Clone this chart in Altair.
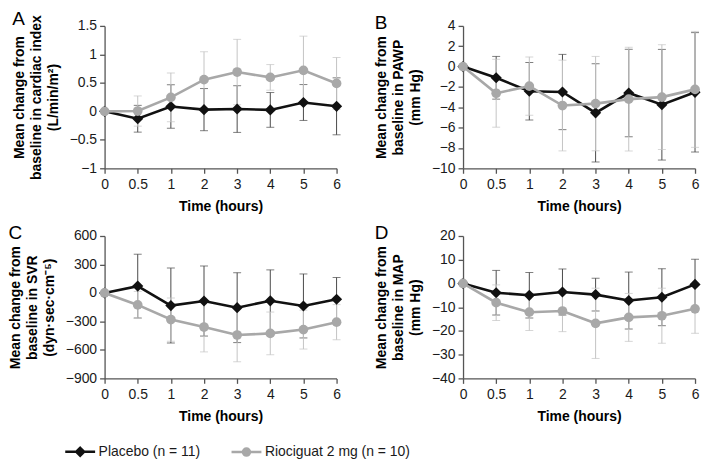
import altair as alt
import pandas as pd

FONT = "Liberation Sans"

TIME_LABELS = ["0", "0.5", "1", "2", "3", "4", "5", "6"]
SERIES = ["Placebo (n = 11)", "Riociguat 2 mg (n = 10)"]

# Panel A: cardiac index (L/min/m2)
A_PLA_MEAN = [0, -0.13, 0.085, 0.03, 0.04, 0.025, 0.155, 0.088]
A_PLA_SD = [0, 0.235, 0.38, 0.37, 0.41, 0.305, 0.315, 0.50]
A_RIO_MEAN = [0, 0.005, 0.245, 0.556, 0.69, 0.596, 0.72, 0.49]
A_RIO_SD = [0, 0.265, 0.43, 0.49, 0.574, 0.225, 0.60, 0.455]
A_TICKS = [-1, -0.5, 0, 0.5, 1, 1.5]

# Panel B: PAWP (mm Hg)
B_PLA_MEAN = [0, -1.1, -2.43, -2.5, -4.55, -2.6, -3.75, -2.53]
B_PLA_SD = [0, 2.1, 2.83, 3.7, 4.83, 4.3, 5.44, 5.87]
B_RIO_MEAN = [0, -2.62, -1.92, -3.83, -3.64, -3.2, -3.0, -2.24]
B_RIO_SD = [0, 3.34, 2.87, 4.46, 4.64, 5.1, 5.15, 5.7]
B_TICKS = [-10, -8, -6, -4, -2, 0, 2, 4]

# Panel C: SVR (dyn.sec.cm-5)
C_PLA_MEAN = [0, 72, -133, -85, -155, -83, -137, -66]
C_PLA_SD = [0, 336, 395, 369, 368, 326, 337, 229]
C_RIO_MEAN = [0, -126, -280, -359, -443, -426, -386, -308]
C_RIO_SD = [0, 142, 228, 262, 282, 225, 205, 185]
C_TICKS = [-900, -600, -300, 0, 300, 600]

# Panel D: MAP (mm Hg)
D_PLA_MEAN = [0, -3.9, -5.0, -3.6, -4.7, -7.2, -5.8, -0.4]
D_PLA_SD = [0, 9.4, 9.6, 9.7, 6.9, 12.0, 12.0, 10.6]
D_RIO_MEAN = [0, -8.1, -12.1, -11.6, -16.8, -14.3, -13.6, -10.7]
D_RIO_SD = [0, 7.5, 7.7, 8.7, 14.8, 10.1, 11.6, 10.3]
D_TICKS = [-40, -30, -20, -10, 0, 10, 20]

LINE_COLORS = ["#111111", "#a8a8a8"]
BAR_COLORS = ["#4a4a4a", "#c4c4c4"]
SHAPES = ["diamond", "circle"]
SIZES = [125, 95]
LEGEND_PATHS = [
    "M-1.5,0H1.5M0,-0.4L0.4,0L0,0.4L-0.4,0Z",
    "M-1.5,0H1.5M0.35,0A0.35,0.35,0,1,1,-0.35,0A0.35,0.35,0,1,1,0.35,0Z",
]

W, H = 233, 143

label_expr = "[" + ",".join("'%s'" % t for t in TIME_LABELS) + "][datum.value]"
xscale = alt.Scale(domain=[0, len(TIME_LABELS) - 1], nice=False, zero=False)
xaxis = alt.Axis(values=list(range(len(TIME_LABELS))), labelExpr=label_expr,
                 title="Time (hours)", labelFlush=False)


def panel(letter, title_lines, means, sds, ticks, with_legend=False):
    rows = []
    for s, m_list, sd_list in zip(SERIES, means, sds):
        for i, (m, sd) in enumerate(zip(m_list, sd_list)):
            rows.append({"idx": i, "series": s, "mean": m, "lo": m - sd, "hi": m + sd})
    df = pd.DataFrame(rows)
    base = alt.Chart(df)
    x = alt.X("idx:Q", scale=xscale, axis=xaxis)
    yscale = alt.Scale(domain=[min(ticks), max(ticks)], nice=False, zero=False)
    yaxis = alt.Axis(values=ticks, format="~r", title=title_lines)
    layers = []
    for s, bc in zip(SERIES, BAR_COLORS):
        sub = base.transform_filter(alt.datum.series == s)
        layers.append(
            sub.mark_errorbar(ticks={"size": 8}, color=bc, thickness=1).encode(
                x=x, y=alt.Y("lo:Q", scale=yscale, axis=yaxis), y2="hi:Q"
            )
        )
    for s, lc, shp, sz in zip(SERIES, LINE_COLORS, SHAPES, SIZES):
        sub = base.transform_filter(alt.datum.series == s)
        layers.append(
            sub.mark_line(color=lc, strokeWidth=2.6).encode(
                x=x, y=alt.Y("mean:Q", scale=yscale, axis=yaxis)
            )
        )
        layers.append(
            sub.mark_point(filled=True, shape=shp, size=sz, color=lc, opacity=1).encode(
                x=x, y=alt.Y("mean:Q", scale=yscale, axis=yaxis)
            )
        )
    if with_legend:
        leg = alt.Legend(
            title=None, orient="none", legendX=-36, legendY=416,
            direction="horizontal", symbolSize=400, symbolStrokeWidth=2.5,
            labelOffset=7, columnPadding=25, symbolOpacity=1,
            labelFont=FONT, labelFontSize=14, labelColor="#1a1a1a",
        )
        carrier = base.transform_filter("false").mark_point(filled=True).encode(
            fill=alt.Fill("series:N", scale=alt.Scale(domain=SERIES, range=LINE_COLORS), legend=leg),
            stroke=alt.Stroke("series:N", scale=alt.Scale(domain=SERIES, range=LINE_COLORS), legend=leg),
            shape=alt.Shape("series:N", scale=alt.Scale(domain=SERIES, range=LEGEND_PATHS), legend=leg),
        )
        layers.append(carrier)
    return alt.layer(*layers).properties(
        width=W, height=H,
        title=alt.TitleParams(letter, anchor="start", frame="bounds", fontSize=19,
                              fontWeight="normal", font=FONT, color="#000", offset=-14),
    )


pA = panel("A", ["Mean change from", "baseline in cardiac index", "(L/min/m²)"],
           [A_PLA_MEAN, A_RIO_MEAN], [A_PLA_SD, A_RIO_SD], A_TICKS)
pB = panel("B", ["Mean change from", "baseline in PAWP", "(mm Hg)"],
           [B_PLA_MEAN, B_RIO_MEAN], [B_PLA_SD, B_RIO_SD], B_TICKS)
pC = panel("C", ["Mean change from", "baseline in SVR", "(dyn·sec·cm⁻⁵)"],
           [C_PLA_MEAN, C_RIO_MEAN], [C_PLA_SD, C_RIO_SD], C_TICKS, with_legend=True)
pD = panel("D", ["Mean change from", "baseline in MAP", "(mm Hg)"],
           [D_PLA_MEAN, D_RIO_MEAN], [D_PLA_SD, D_RIO_SD], D_TICKS)

chart = (
    alt.concat(pA, pB, pC, pD, columns=2, spacing={"row": 11, "column": 32})
    .properties(padding={"left": 0, "top": 0, "right": 0, "bottom": 0}, background="white")
    .configure_view(stroke=None)
    .configure_axis(
        domainColor="#555555", tickColor="#555555", domainWidth=1.3, tickWidth=1.3,
        tickSize=5, grid=False, labelFont=FONT, labelFontSize=14, labelColor="#1a1a1a",
        titleFont=FONT, titleFontSize=14, titleFontWeight="bold", titleColor="#000000",
        labelPadding=3,
    )
    .configure_axisY(titlePadding=9, titleLineHeight=17)
    .configure_axisX(titlePadding=8, labelPadding=4)
)

chart.save("out.html", embed_options={"renderer": "svg", "actions": False})
